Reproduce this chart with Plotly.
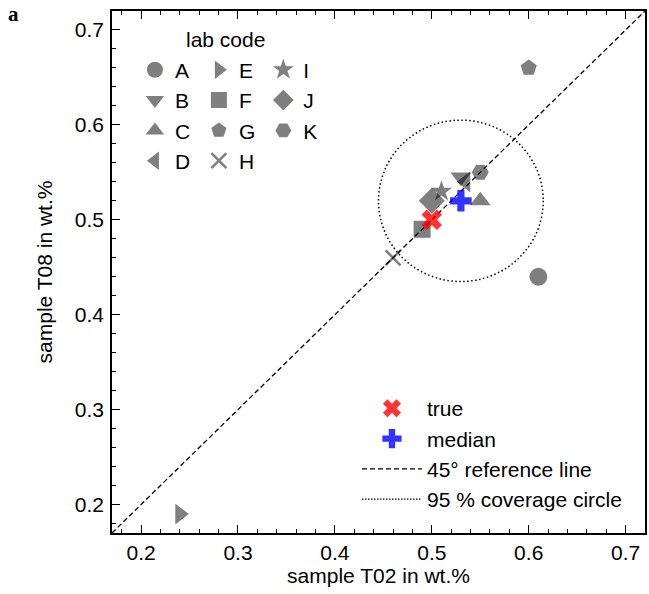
import plotly.graph_objects as go

# ---- data ----
lab_codes = ["A", "B", "C", "D", "E", "F", "G", "H", "I", "J", "K"]
t02_values = [0.61, 0.53, 0.55, 0.535, 0.24, 0.49, 0.60, 0.46, 0.51, 0.50, 0.55]
t08_values = [0.44, 0.545, 0.52, 0.54, 0.19, 0.49, 0.66, 0.46, 0.53, 0.52, 0.55]
symbols = ["circle", "triangle-down", "triangle-up", "triangle-left", "triangle-right",
           "square", "pentagon", "x-thin", "star", "diamond", "hexagon2"]
sizes = [18, 18, 18, 18, 18, 17, 17, 15, 16, 20, 17]

true_value = [0.50, 0.50]      # (T02, T08)
median_value = [0.53, 0.52]    # (T02, T08)
circle_radius = 0.085
axis_range = [0.17, 0.72]
tick_values = [0.2, 0.3, 0.4, 0.5, 0.6, 0.7]
tick_labels = ["0.2", "0.3", "0.4", "0.5", "0.6", "0.7"]

FONT = "Liberation Sans, Arial, Helvetica, sans-serif"
GRAY = "rgba(0,0,0,0.5)"

fig = go.Figure()

# lab markers split into three legend columns
columns = {"legend": ["A", "B", "C", "D"], "legend2": ["E", "F", "G", "H"], "legend3": ["I", "J", "K"]}
for code, x, y, sym, sz in zip(lab_codes, t02_values, t08_values, symbols, sizes):
    leg = [k for k, v in columns.items() if code in v][0]
    marker = dict(symbol=sym, size=sz, color=GRAY)
    if sym == "x-thin":
        marker["line"] = dict(width=2.5, color=GRAY)
    else:
        marker["line"] = dict(width=0)
    fig.add_trace(go.Scatter(x=[x], y=[y], mode="markers", name=code, marker=marker,
                             legend=leg, hoverinfo="skip"))

# reference line
fig.add_trace(go.Scatter(x=axis_range, y=axis_range, mode="lines",
                         line=dict(color="black", width=1.3, dash="5px,3px"),
                         name="45\u00b0 reference line", legend="legend4", legendrank=3))

# coverage circle (drawn as a shape, legend entry via empty trace)
fig.add_shape(type="circle", xref="x", yref="y",
              x0=median_value[0] - circle_radius, x1=median_value[0] + circle_radius,
              y0=median_value[1] - circle_radius, y1=median_value[1] + circle_radius,
              line=dict(color="black", width=1.5, dash="1.5px,2.5px"))
fig.add_trace(go.Scatter(x=[None], y=[None], mode="lines",
                         line=dict(color="black", width=1.3, dash="1.5px,1.5px"),
                         name="95 % coverage circle", legend="legend4", legendrank=4))

fig.add_trace(go.Scatter(x=[true_value[0]], y=[true_value[1]], mode="markers", name="true",
                         marker=dict(symbol="x", size=18, color="rgba(255,0,0,0.8)", line=dict(width=0)),
                         legend="legend4", legendrank=1))
fig.add_trace(go.Scatter(x=[median_value[0]], y=[median_value[1]], mode="markers", name="median",
                         marker=dict(symbol="cross", size=18, color="rgba(0,0,255,0.8)", line=dict(width=0)),
                         legend="legend4", legendrank=2))

legend_common = dict(font=dict(family=FONT, size=21, color="black"), bgcolor="rgba(0,0,0,0)",
                     borderwidth=0, xanchor="left", yanchor="top", itemsizing="trace",
                     traceorder="normal", itemclick=False, itemdoubleclick=False)

axis_common = dict(range=axis_range, showgrid=False, zeroline=False, showline=True,
                   linecolor="black", linewidth=1.5, ticks="inside", ticklen=8, tickwidth=1.3,
                   tickcolor="black", tickvals=tick_values, ticktext=tick_labels,
                   tickfont=dict(family=FONT, size=21, color="black"),
                   minor=dict(dtick=0.02, ticks="inside", ticklen=4, tickwidth=1.1, tickcolor="black"))

fig.update_layout(
    width=649, height=594,
    margin=dict(l=112, r=2, t=11, b=61),
    paper_bgcolor="white", plot_bgcolor="white",
    font=dict(family=FONT, size=21, color="black"),
    xaxis=dict(**axis_common, mirror="allticks", ticklabelstandoff=0,
               title=dict(text="sample T02 in wt.%", font=dict(family=FONT, size=21), standoff=4)),
    yaxis=dict(**axis_common, mirror=True, ticklabelstandoff=2,
               title=dict(text="sample T08 in wt.%", font=dict(family=FONT, size=21), standoff=16)),
    legend=dict(**legend_common, x=0.043, y=0.926),
    legend2=dict(**legend_common, x=0.163, y=0.926),
    legend3=dict(**legend_common, x=0.284, y=0.926),
    legend4=dict(**legend_common, x=0.4596, y=0.2775, itemwidth=60),
    annotations=[
        dict(text="lab code", xref="paper", yref="paper", x=0.213, y=0.946, showarrow=False,
             xanchor="center", yanchor="middle", font=dict(family=FONT, size=21, color="black")),
        dict(text="<b>a</b>", xref="paper", yref="paper", x=-0.185, y=0.994, showarrow=False,
             xanchor="center", yanchor="middle",
             font=dict(family="Liberation Serif, DejaVu Serif, serif", size=21, color="black")),
    ],
    showlegend=True,
)

fig.write_html("out.html", config={"displayModeBar": False},
               post_script="document.body.style.margin='0';document.body.style.overflow='hidden';")
